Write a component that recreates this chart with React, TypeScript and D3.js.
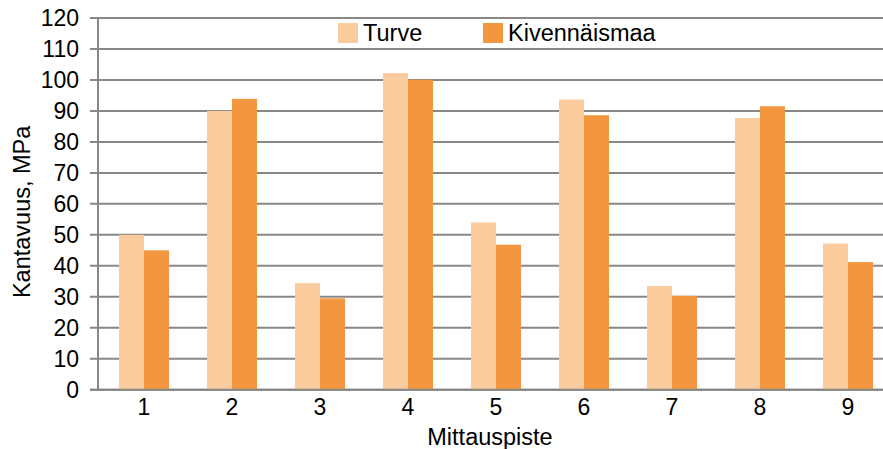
import React from "react";
import * as d3 from "d3";

const categories = ["1", "2", "3", "4", "5", "6", "7", "8", "9"];
const turve = [50, 90, 34.4, 102.2, 54, 93.7, 33.5, 87.7, 47.2];
const kivennaismaa = [45, 93.9, 29.5, 100.1, 46.8, 88.6, 30.3, 91.5, 41.2];
const seriesNames = ["Turve", "Kivennäismaa"];
const yTicks = [0, 10, 20, 30, 40, 50, 60, 70, 80, 90, 100, 110, 120];

const W = 883;
const H = 449;
const left = 98;
const top = 18;
const bottom = 389.7;
const colors = ["#F9CB9D", "#F2963F"];
const font = "'Liberation Sans', Arial, sans-serif";

export default function App() {
  const x = d3
    .scaleBand<string>()
    .domain(categories)
    .range([100, 892])
    .paddingInner(38 / 88)
    .paddingOuter(19 / 88);
  const bw = x.bandwidth() / 2;
  const y = d3.scaleLinear().domain([0, 120]).range([bottom, top]);
  const series = [turve, kivennaismaa];

  return (
    <svg
      width={W}
      height={H}
      style={{ position: "absolute", left: 0, top: 0, background: "#fff" }}
      fontFamily={font}
    >
      {yTicks.map((t) => (
        <g key={t}>
          <line
            x1={90}
            x2={W}
            y1={y(t)}
            y2={y(t)}
            stroke="#878787"
            strokeWidth={2}
          />
          <text
            x={79}
            y={y(t)}
            dy="0.36em"
            textAnchor="end"
            fontSize={23}
            fill="#000"
          >
            {t}
          </text>
        </g>
      ))}
      {series.map((vals, si) =>
        vals.map((v, i) => (
          <rect
            key={`${si}-${i}`}
            x={(x(categories[i]) as number) + si * bw}
            y={y(v)}
            width={bw}
            height={y(0) - y(v)}
            fill={colors[si]}
          />
        ))
      )}
      <line x1={90} x2={W} y1={y(0)} y2={y(0)} stroke="#878787" strokeWidth={2} />
      <line x1={left} x2={left} y1={top - 1} y2={bottom + 1} stroke="#878787" strokeWidth={2} />
      {categories.map((c) => (
        <text
          key={c}
          x={(x(c) as number) + bw}
          y={415}
          textAnchor="middle"
          fontSize={23}
          fill="#000"
        >
          {c}
        </text>
      ))}
      <text x={490} y={445} textAnchor="middle" fontSize={23.5} fill="#000">
        Mittauspiste
      </text>
      <text
        transform={`translate(30, ${(top + bottom) / 2 + 8}) rotate(-90)`}
        textAnchor="middle"
        fontSize={23.5}
        fill="#000"
      >
        Kantavuus, MPa
      </text>
      {seriesNames.map((n, i) => {
        const lx = [338, 483][i];
        return (
          <g key={n}>
            <rect x={lx} y={23} width={20} height={20} fill={colors[i]} />
            <text x={lx + 25} y={41} fontSize={23.5} fill="#000">
              {n}
            </text>
          </g>
        );
      })}
    </svg>
  );
}
